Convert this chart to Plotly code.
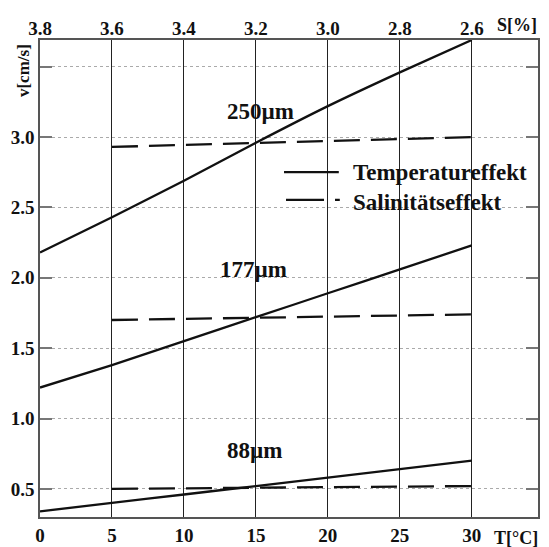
import plotly.graph_objects as go

# Temperature (°C) grid for the temperature-effect curves
T_temp = [0, 5, 10, 15, 20, 25, 30]
v250_temp = [2.18, 2.43, 2.69, 2.96, 3.22, 3.46, 3.69]
v177_temp = [1.22, 1.38, 1.55, 1.72, 1.89, 2.06, 2.23]
v88_temp = [0.34, 0.40, 0.46, 0.52, 0.58, 0.64, 0.70]

# Salinity-effect curves (plotted against the same T positions, S on top axis)
T_sal = [5, 30]
v250_sal = [2.93, 3.00]
v177_sal = [1.70, 1.74]
v88_sal = [0.50, 0.52]

size_labels = ["250µm", "177µm", "88µm"]
size_label_T = [15.3, 14.8, 14.9]
size_label_v = [3.18, 2.06, 0.77]

legend_labels = ["Temperatureffekt", "Salinitätseffekt"]

x_ticks = [0, 5, 10, 15, 20, 25, 30]
s_ticks = [3.8, 3.6, 3.4, 3.2, 3.0, 2.8, 2.6]
y_ticks = [0.5, 1.0, 1.5, 2.0, 2.5, 3.0, 3.5]
y_ticktext = ["0.5", "1.0", "1.5", "2.0", "2.5", "3.0", ""]

X_MAX = 34.6
S_AT_XMAX = 3.8 - 0.04 * X_MAX

FONT = "Liberation Serif"
INK = "#111111"
DASH = "26px,11px"

fig = go.Figure()

temp_series = [v250_temp, v177_temp, v88_temp]
sal_series = [v250_sal, v177_sal, v88_sal]

for ys in temp_series:
    fig.add_trace(go.Scatter(
        x=T_temp, y=ys, mode="lines",
        line=dict(color=INK, width=2.3, shape="spline", smoothing=0.6),
        name=legend_labels[0], showlegend=False,
    ))
for ys in sal_series:
    fig.add_trace(go.Scatter(
        x=T_sal, y=ys, mode="lines",
        line=dict(color=INK, width=2.3, dash=DASH),
        name=legend_labels[1], showlegend=False,
    ))

# invisible trace to activate top axis
fig.add_trace(go.Scatter(x=[3.8], y=[None], xaxis="x2", showlegend=False,
                         hoverinfo="skip"))

for lab, tx, vy in zip(size_labels, size_label_T, size_label_v):
    fig.add_annotation(x=tx, y=vy, text=lab, showarrow=False,
                       font=dict(family=FONT, size=23, color=INK, weight="bold"))

# hand-drawn legend (as in the original figure)
fig.add_shape(type="line", xref="paper", yref="paper", x0=0.49, x1=0.60,
              y0=0.723, y1=0.723, line=dict(color=INK, width=2.3))
fig.add_shape(type="line", xref="paper", yref="paper", x0=0.494, x1=0.602,
              y0=0.665, y1=0.665, line=dict(color=INK, width=2.3, dash="38px,11px"))
fig.add_annotation(xref="paper", yref="paper", x=0.624, y=0.723, xanchor="left",
                   yanchor="middle", text=legend_labels[0], showarrow=False,
                   font=dict(family=FONT, size=23, color=INK, weight="bold"))
fig.add_annotation(xref="paper", yref="paper", x=0.624, y=0.660, xanchor="left",
                   yanchor="middle", text=legend_labels[1], showarrow=False,
                   font=dict(family=FONT, size=23, color=INK, weight="bold"))

fig.add_annotation(xref="paper", yref="paper", x=0.956, y=-0.044, text="T[°C]",
                   xanchor="center", yanchor="middle",
                   showarrow=False, font=dict(family=FONT, size=18, color=INK, weight="bold"))
fig.add_annotation(xref="paper", yref="paper", x=0.958, y=1.031, text="S[%]",
                   xanchor="center", yanchor="middle",
                   showarrow=False, font=dict(family=FONT, size=18, color=INK, weight="bold"))
fig.add_annotation(xref="paper", yref="paper", x=-0.034, y=0.935, text="v[cm/s]",
                   xanchor="center", yanchor="middle",
                   textangle=-90, showarrow=False,
                   font=dict(family=FONT, size=17, color=INK, weight="bold"))

tickfont = dict(family=FONT, size=19, color=INK, weight="bold")

# The page body adds an 8px offset, so the figure is sized 8px smaller.
fig.update_layout(
    width=541, height=539,
    margin=dict(l=32, r=11, t=32, b=30),
    paper_bgcolor="white", plot_bgcolor="white",
    showlegend=False,
    xaxis=dict(range=[0, X_MAX], tickvals=x_ticks, ticks="", tickfont=tickfont,
               automargin=False,
               showgrid=True, gridcolor="#222222", gridwidth=1.3,
               zeroline=False, showline=True, linecolor="#555555", linewidth=1.5,
               mirror=True),
    xaxis2=dict(overlaying="x", side="top", range=[3.8, S_AT_XMAX],
                tickvals=s_ticks, tickformat=".1f", ticks="", tickfont=tickfont,
                automargin=False,
                showgrid=False, zeroline=False, showline=False),
    yaxis=dict(range=[0.30, 3.69], tickvals=y_ticks, ticktext=y_ticktext,
               tickfont=tickfont, ticks="inside", ticklen=12, tickcolor="#777777",
               automargin=False,
               tickwidth=1.5, showgrid=True, gridcolor="#aaaaaa", griddash="dot",
               gridwidth=1, zeroline=False, showline=True, linecolor="#555555",
               linewidth=1.5, mirror="ticks"),
)

fig.write_html("out.html")
